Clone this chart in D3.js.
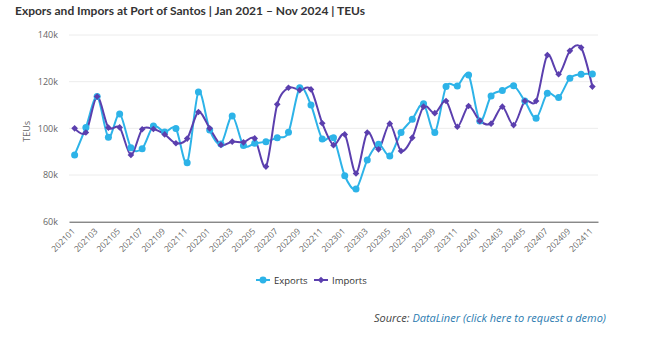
<!DOCTYPE html>
<html>
<head>
<meta charset="utf-8">
<script src="https://cdn.jsdelivr.net/npm/d3@7"></script>
<style>
  body { margin: 0; background: #fff; font-family: "Open Sans", sans-serif; }
</style>
</head>
<body>
<script>
// Data
const months = ["202101","202102","202103","202104","202105","202106","202107","202108","202109","202110","202111","202112",
  "202201","202202","202203","202204","202205","202206","202207","202208","202209","202210","202211","202212",
  "202301","202302","202303","202304","202305","202306","202307","202308","202309","202310","202311","202312",
  "202401","202402","202403","202404","202405","202406","202407","202408","202409","202410","202411"];
const exportsK = [88.6, 100.4, 113.6, 96.2, 106.2, 91.7, 91.3, 101, 98.4, 99.9, 85.3, 115.6,
  99.3, 93.3, 105.3, 92.6, 93.6, 94.3, 96, 98.3, 117.4, 110, 95.4, 96,
  79.7, 74, 86.4, 93.2, 88.2, 98.2, 103.9, 110.5, 98.2, 117.9, 118.2, 122.9,
  103.2, 113.9, 116.2, 118.3, 111.7, 104.3, 115, 113.2, 121.5, 123.2, 123.3];
const importsK = [100, 98.2, 113.6, 100.3, 100.4, 88.6, 99.6, 99.7, 97.4, 93.6, 95.6, 107,
  100, 92.9, 94.3, 94, 95.7, 83.6, 110.3, 117.4, 116.4, 116.7, 102.2, 92.8,
  97.4, 80.7, 98.2, 91, 102, 90.3, 96, 109.3, 106.5, 111.7, 100.7, 109.6,
  103.2, 102, 109.3, 101.4, 111.7, 111.7, 131.4, 123.2, 133.2, 134.6, 117.9];
const yTicks = [60, 80, 100, 120, 140];

const W = 658, H = 342;
const plot = { left: 69, right: 598, top: 35, bottom: 221.7 };
const colors = { exports: "#2db3e8", imports: "#5b3fae" };

const svg = d3.select("body").append("svg")
    .attr("width", W)
    .attr("height", H);

// Title
svg.append("text")
    .attr("x", 15)
    .attr("y", 15)
    .attr("font-family", "Lato, sans-serif")
    .attr("font-size", 12)
    .attr("font-weight", 700)
    .attr("fill", "#333")
    .text("Expors and Impors at Port of Santos | Jan 2021 \u2013 Nov 2024 | TEUs");

const x = d3.scaleBand()
    .domain(months)
    .range([plot.left, plot.right]);

const y = d3.scaleLinear()
    .domain([60, 140])
    .range([plot.bottom, plot.top]);

const cx = d => x(d) + x.bandwidth() / 2;

// Grid
svg.append("g")
    .selectAll("line")
    .data(yTicks.slice(1))
    .join("line")
    .attr("x1", plot.left)
    .attr("x2", plot.right)
    .attr("y1", d => y(d))
    .attr("y2", d => y(d))
    .attr("stroke", "#ececec")
    .attr("stroke-width", 1);

// Y axis labels
const yAxis = svg.append("g")
    .attr("transform", `translate(${plot.left - 8},0)`)
    .call(d3.axisLeft(y).tickValues(yTicks).tickFormat(d => d + "k").tickSize(0));
yAxis.select(".domain").remove();
yAxis.selectAll("text")
    .attr("font-family", "Open Sans, sans-serif")
    .attr("font-size", 9)
    .attr("fill", "#666");

svg.append("text")
    .attr("transform", `translate(30,${(plot.top + plot.bottom) / 2 + 3}) rotate(-90)`)
    .attr("text-anchor", "middle")
    .attr("font-size", 9)
    .attr("fill", "#666")
    .text("TEUs");

// X axis
const xAxis = svg.append("g")
    .attr("transform", `translate(0,${plot.bottom})`)
    .call(d3.axisBottom(x).tickValues(months.filter((d, i) => i % 2 === 0)).tickSize(0));
xAxis.select(".domain")
    .attr("stroke", "#555")
    .attr("stroke-width", 1);
xAxis.selectAll("text")
    .attr("font-family", "Open Sans, sans-serif")
    .attr("font-size", 8.5)
    .attr("fill", "#666")
    .attr("text-anchor", "end")
    .attr("dy", 0)
    .attr("transform", "translate(-1,8) rotate(-45)");

// Lines
const line = d3.line()
    .x((d, i) => cx(months[i]))
    .y(d => y(d))
    .curve(d3.curveCardinal.tension(0.1));

svg.append("path")
    .datum(exportsK)
    .attr("fill", "none")
    .attr("stroke", colors.exports)
    .attr("stroke-width", 2)
    .attr("d", line);

svg.append("path")
    .datum(importsK)
    .attr("fill", "none")
    .attr("stroke", colors.imports)
    .attr("stroke-width", 2)
    .attr("d", line);

// Markers
svg.append("g")
    .selectAll("circle")
    .data(exportsK)
    .join("circle")
    .attr("cx", (d, i) => cx(months[i]))
    .attr("cy", d => y(d))
    .attr("r", 3.5)
    .attr("fill", colors.exports);

const diamond = d3.symbol().type(d3.symbolDiamond2).size(28);
svg.append("g")
    .selectAll("path")
    .data(importsK)
    .join("path")
    .attr("transform", (d, i) => `translate(${cx(months[i])},${y(d)})`)
    .attr("d", diamond)
    .attr("fill", colors.imports);

// Legend
const legend = svg.append("g").attr("transform", "translate(0,280)");
const items = [
  { name: "Exports", color: colors.exports, sym: d3.symbolCircle, sx: 263 },
  { name: "Imports", color: colors.imports, sym: d3.symbolDiamond2, sx: 321 }
];
items.forEach(it => {
  legend.append("line")
      .attr("x1", it.sx - 7).attr("x2", it.sx + 7)
      .attr("stroke", it.color).attr("stroke-width", 2);
  legend.append("path")
      .attr("transform", `translate(${it.sx},0)`)
      .attr("d", d3.symbol().type(it.sym).size(it.sym === d3.symbolCircle ? 38 : 28))
      .attr("fill", it.color);
  legend.append("text")
      .attr("x", it.sx + 11)
      .attr("y", 3.5)
      .attr("font-size", 9.5)
      .attr("fill", "#333")
      .text(it.name);
});

// Source
const src = svg.append("text")
    .attr("x", 606)
    .attr("y", 322)
    .attr("text-anchor", "end")
    .attr("font-size", 11)
    .attr("font-style", "italic");
src.append("tspan").attr("fill", "#444").text("Source: ");
src.append("tspan").attr("fill", "#2b7bb0").text("DataLiner (click here to request a demo)");
</script>
</body>
</html>
